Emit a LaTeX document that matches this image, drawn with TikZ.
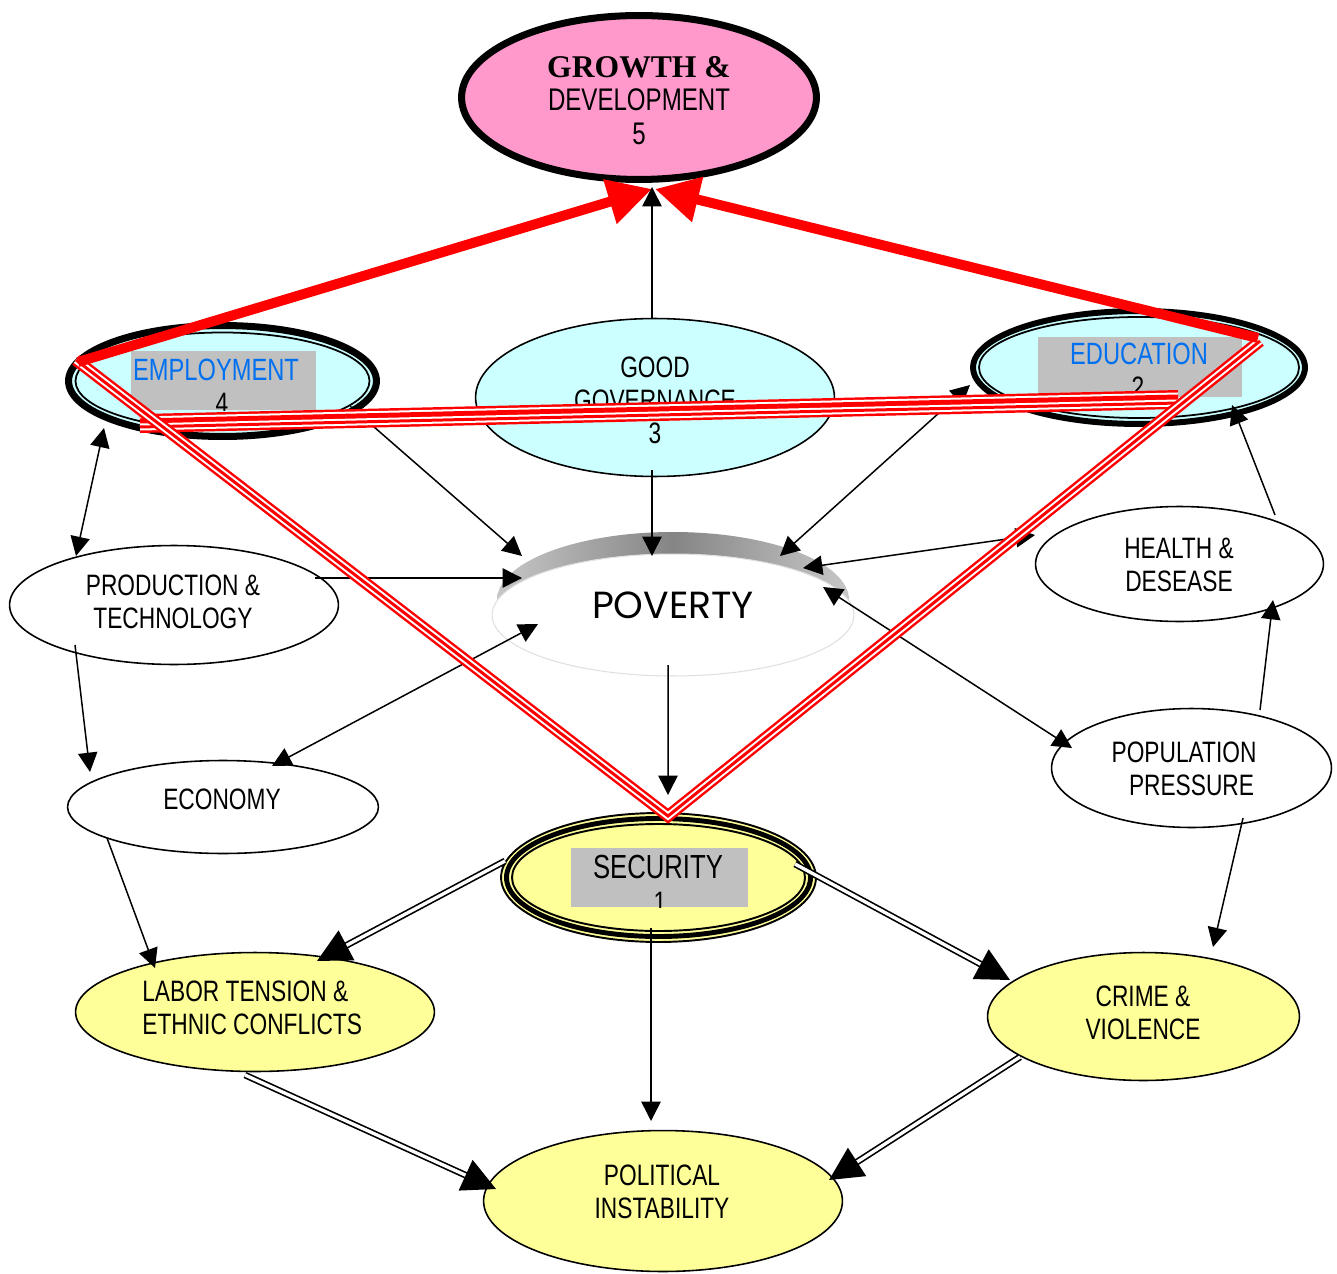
\documentclass[tikz,border=0pt]{standalone}
\usepackage{fontspec}
\newfontfamily\nar{Liberation Sans}[FakeStretch=0.77]
\newfontfamily\tms{Liberation Serif}
\newfontfamily\pop{Poppins}
\usetikzlibrary{arrows.meta,shapes.geometric,calc}
\definecolor{pinkf}{RGB}{255,153,204}
\definecolor{cyanf}{RGB}{204,255,255}
\definecolor{yelf}{RGB}{255,255,153}
\definecolor{boxg}{RGB}{192,192,192}
\definecolor{tblue}{RGB}{0,112,240}
\begin{document}
\begin{tikzpicture}[x=0.02cm,y=-0.02cm,
  ell/.style 2 args={ellipse,inner sep=0pt,outer sep=0pt,minimum width=#1*0.04cm,minimum height=#2*0.04cm},
  thinb/.style={draw=black,line width=0.9pt},
  txt/.style={inner sep=0pt,align=center,font=\nar\fontsize{16.8}{18.7}\selectfont},
  gbox/.style={fill=boxg,inner sep=0pt,outer sep=0pt},
  arr/.style={line width=0.85pt,-{Triangle[length=11pt,width=11pt]}},
  barr/.style={line width=0.85pt,{Triangle[length=11pt,width=11pt]}-{Triangle[length=11pt,width=11pt]}},
  dbl/.style={line width=0.95pt,double=white,double distance=1.9pt,-{Triangle[length=19pt,width=19pt]}},
  triple/.style={preaction={draw=red,line width=6.8pt},draw=white,line width=4pt,postaction={draw=red,line width=1.7pt}},
  redarr/.style={draw=red,line width=5.7pt,-{Triangle[length=25pt,width=25pt]}}
]
\useasboundingbox (0,0) rectangle (1337,1273);

% ---------------- ellipses ----------------
\node[ell={177.5}{82},draw,line width=4pt,fill=pinkf] (growth) at (639,97.5) {};
\node[ell={154}{55.5},draw,line width=4pt,fill=cyanf] (emp) at (222.5,381) {};
\draw[line width=1pt] (emp.center) ellipse [x radius=147, y radius=48.5];
\node[ell={179.5}{79},thinb,fill=cyanf] (gov) at (655,397.5) {};
\node[ell={166}{56.5},draw,line width=3.4pt,fill=cyanf] (edu) at (1139,367.5) {};
\draw[line width=1pt] (edu.center) ellipse [x radius=160, y radius=50.5];
\shade[left color=black!22,right color=black!22,middle color=black!48] (673,600) ellipse [x radius=176, y radius=68];
\node[ell={181}{61},draw=black!12,line width=0.6pt,fill=white] (pov) at (673,615) {};
\node[ell={164.5}{59.5},thinb,fill=white] (prod) at (174,605) {};
\node[ell={144}{57.5},thinb,fill=white] (health) at (1179.5,564) {};
\node[ell={155.5}{46.5},thinb,fill=white] (econ) at (223,807) {};
\node[ell={140}{59.5},thinb,fill=white] (popu) at (1191.5,768) {};
\node[ell={157.5}{64.5},draw,line width=1.1pt,fill=yelf] (sec) at (658.5,877.5) {};
\draw[line width=2.8pt] (sec.center) ellipse [x radius=152, y radius=59];
\draw[line width=1.1pt] (sec.center) ellipse [x radius=146.5, y radius=53.5];
\node[ell={179.5}{59.5},thinb,fill=yelf] (labor) at (255,1012) {};
\node[ell={156}{64},thinb,fill=yelf] (crime) at (1143.5,1016.5) {};
\node[ell={179.5}{70.5},thinb,fill=yelf] (pol) at (663,1201) {};

% ---------------- texts ----------------
\node[txt,font=\nar\fontsize{17.8}{19}\selectfont] (growthtxt) at (639,100.5) {{\tms\bfseries\fontsize{18}{19}\selectfont GROWTH \&}\\DEVELOPMENT\\5};
\node[gbox,minimum width=185*0.02cm,minimum height=59*0.02cm] (empbox) at (223.5,380.5) {};
\node[txt,text=tblue,font=\nar\fontsize{17.5}{19}\selectfont] (emptxt) at (216,370) {EMPLOYMENT};
\begin{scope}
\clip (131,351) rectangle (316,410);
\node[txt] (empnum) at (222,403.5) {4};
\end{scope}
\node[txt] (govtxt) at (655,400) {GOOD\\GOVERNANCE\\3};
\node[gbox,minimum width=204*0.02cm,minimum height=60*0.02cm] (edubox) at (1140,367) {};
\node[txt,text=tblue,font=\nar\fontsize{17.5}{19}\selectfont] (edutxt) at (1139,354) {EDUCATION};
\begin{scope}
\clip (1038,337) rectangle (1242,397);
\node[txt] (edunum) at (1138,387.5) {2};
\end{scope}
\node[inner sep=0pt,font=\pop\fontsize{21.5}{24}\selectfont] (povtxt) at (673,605) {POVERTY};
\node[txt] (prodtxt) at (173,602) {PRODUCTION \&\\TECHNOLOGY};
\node[txt] (healthtxt) at (1179,565) {HEALTH \&\\DESEASE};
\node[txt] (econtxt) at (222,799) {ECONOMY};
\node[txt] (poputxt) at (1184,769) {POPULATION\\\hspace*{0.3cm}PRESSURE};
\node[gbox,minimum width=177*0.02cm,minimum height=59*0.02cm] (secbox) at (659.5,877.5) {};
\node[txt,font=\nar\fontsize{19}{20}\selectfont] (sectxt) at (658,867) {SECURITY};
\begin{scope}
\clip (571,848) rectangle (748,907);
\node[txt] (secnum) at (660,902.5) {1};
\end{scope}
\node[txt,align=left,anchor=west] (labortxt) at (142,1008) {LABOR TENSION \&\\ETHNIC CONFLICTS};
\node[txt] (crimetxt) at (1143,1013) {CRIME \&\\VIOLENCE};
\node[txt] (poltxt) at (662,1192) {POLITICAL\\INSTABILITY};

% ---------------- black arrows ----------------
\draw[arr] ($(gov)+(652-655,470-397.5)$) -- ($(pov)+(652-673,556-615)$);
\draw[barr] ($(emp)+(350-222.5,406-381)$) -- ($(pov)+(522-673,556-615)$);
\draw[arr] ($(prod)+(315-174,578-605)$) -- ($(pov)+(522-673,578-615)$);
\draw[barr] ($(pov)+(538-673,624-615)$) -- ($(econ)+(272-223,766-807)$);
\draw[barr] ($(emp)+(104-222.5,428-381)$) -- ($(prod)+(76-174,556-605)$);
\draw[arr] ($(prod)+(75-174,645-605)$) -- ($(econ)+(90-223,772-807)$);
\draw[arr] ($(econ)+(107-223,838-807)$) -- ($(labor)+(155-255,968-1012)$);
\draw[arr] ($(pov)+(668-673,665-615)$) -- ($(sec)+(668-658.5,795-877.5)$);
\draw[barr] ($(edu)+(970-1139,385-367.5)$) -- ($(pov)+(780-673,556-615)$);
\draw[barr] ($(health)+(1035-1179.5,535-564)$) -- ($(pov)+(803-673,568-615)$);
\draw[barr] ($(pov)+(823-673,587-615)$) -- ($(popu)+(1072-1191.5,748-768)$);
\draw[arr] ($(health)+(1275-1179.5,515-564)$) -- ($(edu)+(1232-1139,405-367.5)$);
\draw[arr] ($(popu)+(1260-1191.5,710-768)$) -- ($(health)+(1273-1179.5,600-564)$);
\draw[arr] ($(popu)+(1243-1191.5,818-768)$) -- ($(crime)+(1213-1143.5,947-1016.5)$);
\draw[arr] ($(sec)+(651-658.5,928-877.5)$) -- ($(pol)+(651-663,1121-1201)$);

% ---------------- double arrows ----------------
\draw[dbl] ($(sec)+(505-658.5,861-877.5)$) -- ($(labor)+(317-255,961-1012)$);
\draw[dbl] ($(sec)+(795-658.5,864-877.5)$) -- ($(crime)+(1010-1143.5,980-1016.5)$);
\draw[dbl] ($(labor)+(245-255,1075-1012)$) -- ($(pol)+(496-663,1189-1201)$);
\draw[dbl] ($(crime)+(1020-1143.5,1057-1016.5)$) -- ($(pol)+(829-663,1180-1201)$);

% ---------------- red triple lines ----------------
\draw[triple] ($(emp)+(140-222.5,420-381)$) -- ($(edu)+(1178-1139,396-367.5)$);
\draw[triple] ($(emp)+(140-222.5,427-381)$) -- ($(edu)+(1178-1139,403-367.5)$);
\draw[triple] ($(emp)+(76-222.5,360-381)$) -- ($(sec)+(668-658.5,816-877.5)$) -- ($(edu)+(1260-1139,341-367.5)$);

% ---------------- red arrows ----------------
\draw[redarr] ($(emp)+(78-222.5,362-381)$) -- ($(growth)+(652-639,189-97.5)$);
\draw[redarr] ($(edu)+(1258-1139,338-367.5)$) -- ($(growth)+(655-639,189-97.5)$);

% governance -> growth
\draw[arr] ($(gov)+(652-655,318-397.5)$) -- ($(growth)+(652-639,187-97.5)$);
\end{tikzpicture}
\end{document}
